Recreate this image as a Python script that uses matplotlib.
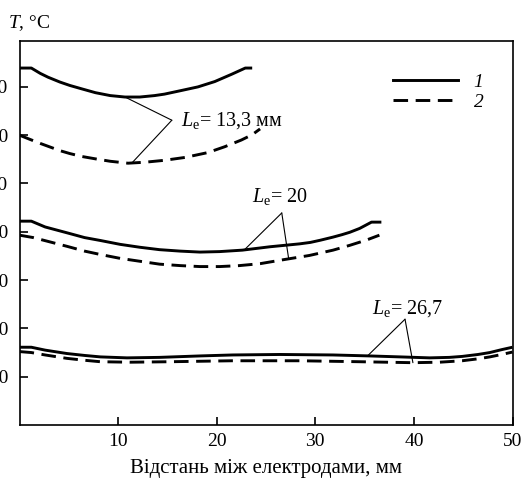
import numpy as np
import matplotlib
matplotlib.use('Agg')
import matplotlib.pyplot as plt
from matplotlib.lines import Line2D

plt.rcParams['font.family'] = ['Liberation Serif', 'DejaVu Serif']
plt.rcParams['mathtext.fontset'] = 'custom'
plt.rcParams['mathtext.rm'] = 'Liberation Serif'
plt.rcParams['mathtext.it'] = 'Liberation Serif:italic'

# Temperature profiles between electrodes (1 - solid, 2 - dashed)
# L_e = 13,3 mm
x_13_1 = [0, 1.2, 2.1, 2.9, 4.1, 5.1, 6.3, 7.7, 9.2, 10.7, 12.2, 13.7, 14.7, 16.3,
          18.1, 19.8, 21.5, 22.9, 23.6]
t_13_1 = [739, 739, 728, 720, 710, 703, 696, 688, 682, 679, 679, 682, 685, 692,
          700, 711, 726, 739, 739]
x_13_2 = [0, 1.1, 2.1, 2.9, 4.1, 5.1, 6.3, 7.7, 9.2, 11.0, 12.7, 14.7, 16.8, 19.1,
          20.8, 22.5, 23.6, 24.4]
t_13_2 = [600, 591, 583, 577, 568, 562, 556, 551, 546, 542, 544, 548, 554, 564,
          576, 590, 601, 613]

# L_e = 20 mm
x_20_1 = [0, 1.2, 2.6, 4.8, 6.6, 8.2, 10.2, 12.2, 14.2, 16.3, 18.3, 20.3, 22.6, 25.4,
          28.4, 29.5, 30.5, 31.8, 32.7, 33.5, 34.5, 35.7, 36.7]
t_20_1 = [422, 422, 410, 398, 388, 382, 374, 368, 363, 360, 358, 359, 362, 369,
          375, 378, 382.5, 389, 394, 399, 407, 420, 420]
x_20_2 = [0, 1.4, 3.1, 4.8, 6.6, 8.2, 10.2, 12.2, 14.2, 16.3, 18.3, 20.3, 22.3, 24.4,
          26.7, 29.4, 31.8, 33.5, 35.2, 36.5]
t_20_2 = [393, 388, 379, 370, 360, 353, 345, 339, 333, 330, 328, 328, 330, 334,
          342, 351, 362, 372, 383, 393]

# L_e = 26,7 mm
x_27_1 = [0, 1.2, 2.6, 4.8, 6.6, 8.2, 10.9, 14.2, 18.3, 21.6, 26.4, 31.8, 35.5, 38.6,
          41.6, 43.6, 44.9, 46.5, 47.7, 48.9, 50]
t_27_1 = [161, 161, 155, 148, 144, 141, 139, 140, 143, 145, 146, 145, 143, 141,
          139, 140, 142, 146, 150, 156, 161]
x_27_2 = [0, 1.2, 2.6, 4.8, 6.6, 8.2, 11.2, 15.3, 21.6, 28.4, 34.5, 39.9, 42.6, 44.9,
          46.5, 47.7, 48.9, 50]
t_27_2 = [152, 150, 145, 138, 134, 131, 130, 131, 133, 133, 131, 129, 130, 133,
          137, 141, 146, 151]

x_ticks = [10, 20, 30, 40, 50]
y_ticks = [100, 200, 300, 400, 500, 600, 700]

W, H = 522, 478
fig = plt.figure(figsize=(W / 100, H / 100), dpi=100)
ax = fig.add_axes([19.5 / W, 1 - 425 / H, 493 / W, 384 / H])

dash = (0, (5, 2.6))
lw = 2.1
for xs, ts in [(x_13_1, t_13_1), (x_20_1, t_20_1), (x_27_1, t_27_1)]:
    ax.plot(xs, ts, color='black', lw=lw, solid_capstyle='butt', solid_joinstyle='round')
for xs, ts in [(x_13_2, t_13_2), (x_20_2, t_20_2), (x_27_2, t_27_2)]:
    ax.plot(xs, ts, color='black', lw=lw, linestyle=dash, dash_capstyle='butt')

ax.set_xlim(0, 50)
ax.set_ylim(0, 795)
ax.set_xticks(x_ticks)
ax.set_yticks(y_ticks)
ax.set_yticklabels([str(v) for v in y_ticks])
ax.tick_params(direction='in', length=6, width=1.2, labelsize=14, pad=6)
ax.tick_params(axis='y', pad=8)
for s in ax.spines.values():
    s.set_linewidth(1.2)

ax.set_xlabel('Відстань між електродами, мм', fontsize=15, labelpad=6)
fig.text(8 / W, 1 - 23 / H, '$T$, °C', fontsize=14, va='center', ha='left')


def leader(vertex, x1, xs1, ts1, x2, xs2, ts2):
    # two thin lines from a common vertex to the solid and the dashed curve
    for x, xs, ts in [(x1, xs1, ts1), (x2, xs2, ts2)]:
        ax.annotate('', xy=(x, np.interp(x, xs, ts)), xytext=vertex,
                    arrowprops=dict(arrowstyle='-', lw=0.8, color='black',
                                    shrinkA=0, shrinkB=0))


leader((15.45, 631), 10.7, x_13_1, t_13_1, 11.4, x_13_2, t_13_2)
ax.text(16.4, 631, '$L_\\mathrm{e}$= 13,3 мм', fontsize=14.5, va='center')

leader((26.6, 439), 22.8, x_20_1, t_20_1, 27.3, x_20_2, t_20_2)
ax.text(23.6, 474, '$L_\\mathrm{e}$= 20', fontsize=14.5, va='center')

leader((39.1, 219), 35.3, x_27_1, t_27_1, 39.9, x_27_2, t_27_2)
ax.text(35.7, 242, '$L_\\mathrm{e}$= 26,7', fontsize=14.5, va='center')

handles = [Line2D([0], [0], color='black', lw=lw),
           Line2D([0], [0], color='black', lw=lw, linestyle=dash)]
ax.legend(handles, ['1', '2'], loc='upper left',
          bbox_to_anchor=((393 - 19.5) / 493, (425 - 73) / 384),
          frameon=False, borderpad=0, borderaxespad=0, handlelength=3.35,
          handletextpad=0.8, labelspacing=0.12,
          prop={'family': 'Liberation Serif', 'style': 'italic', 'size': 14})

fig.savefig('out.png', dpi=100)
